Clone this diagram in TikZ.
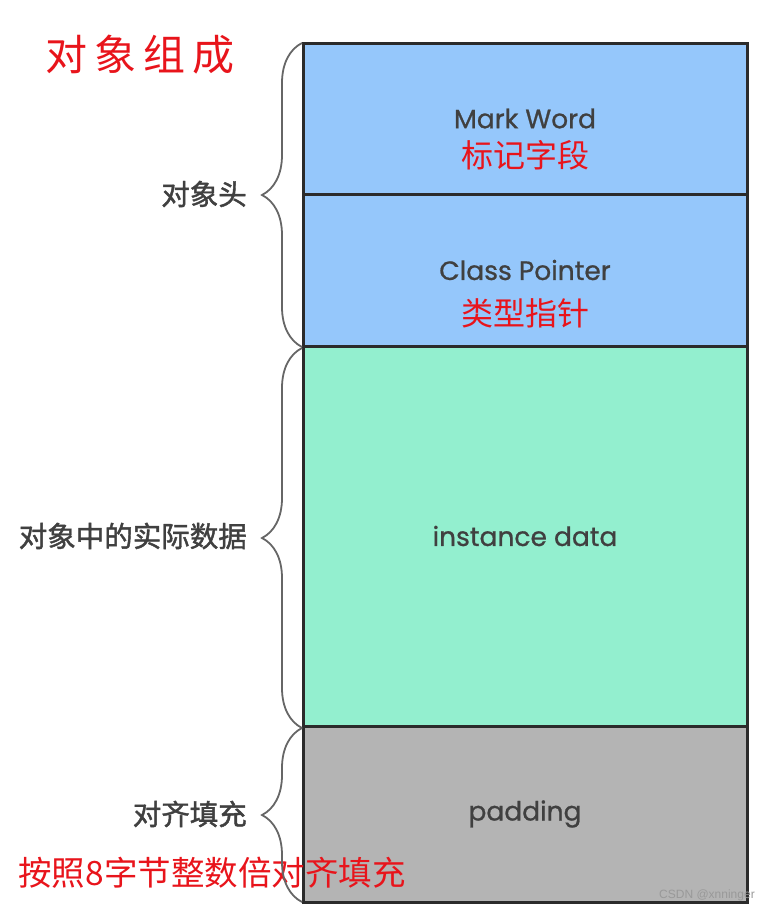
\documentclass[tikz,border=0pt]{standalone}
\usepackage{fontspec}
\newfontfamily\cjk{Noto Sans CJK SC}
\newfontfamily\cjkthick{Noto Sans CJK SC}[FakeBold=1.5]
\newfontfamily\boxfont{Poppins}[FakeBold=0.8]
\newfontfamily\markfont{Liberation Sans}
\usetikzlibrary{positioning,decorations.pathreplacing}
\definecolor{headblue}{HTML}{95C7FB}
\definecolor{datagreen}{HTML}{93EFCF}
\definecolor{padgray}{HTML}{B4B4B4}
\definecolor{edgegray}{HTML}{2B2B2B}
\definecolor{notered}{HTML}{E8141B}
\tikzset{
  part/.style={rectangle, draw=edgegray, line width=3pt, outer sep=0pt, minimum width=444pt, text=black!75, font=\boxfont\fontsize{26.5}{30}\selectfont},
  cnlabel/.style={inner sep=0pt, text=black!75, font=\cjkthick\fontsize{28.5}{31}\selectfont},
  rednote/.style={inner sep=0pt, text=notered, font=\cjk\fontsize{32}{35}\selectfont},
  partbrace/.style={draw=black!60, line width=1.8pt, decorate, decoration={brace, amplitude=40pt}}
}
\begin{document}
\begin{tikzpicture}[x=1pt, y=-1pt]
    \useasboundingbox (0,0) rectangle (775,913);
    % Nodes
    \node (markword) [part, fill=headblue, minimum height=151pt] at (525,118.5) {Mark Word};
    \node (classptr) [part, fill=headblue, minimum height=152pt, below=0pt of markword] {Class Pointer};
    \node (instdata) [part, fill=datagreen, minimum height=380pt, below=0pt of classptr] {instance data};
    \node (padding) [part, fill=padgray, minimum height=176pt, below=0pt of instdata] {padding};

    \node (markcn) [rednote] at ([yshift=-37pt]markword.center) {标记字段};
    \node (classcn) [rednote] at ([yshift=-43pt]classptr.center) {类型指针};

    \node (headlbl) [cnlabel, left=56pt of markword.south west] {对象头};
    \node (datalbl) [cnlabel, left=56pt of instdata.west] {对象中的实际数据};
    \node (padlbl) [cnlabel, left=56pt of padding.west] {对齐填充};

    \node (title) [rednote, font=\cjk\fontsize{42}{46}\selectfont] at (140,55) {对\,象\,组\,成};
    \node (padnote) [rednote, font=\cjk\fontsize{33.5}{36}\selectfont] at (212,873) {按照8字节整数倍对齐填充};
    \node (mark) [inner sep=0pt, text=black!40, font=\markfont\fontsize{12}{14}\selectfont] at (707,895) {CSDN @xnninger};

    % Braces
    \draw[partbrace] ([xshift=-1pt,yshift=-1pt]classptr.south west) -- ([xshift=-1pt]markword.north west);
    \draw[partbrace] ([xshift=-1pt,yshift=-2pt]instdata.south west) -- ([xshift=-1pt,yshift=-2pt]instdata.north west);
    \draw[partbrace] ([xshift=-1pt]padding.south west) -- ([xshift=-1pt,yshift=-2pt]padding.north west);
\end{tikzpicture}
\end{document}
